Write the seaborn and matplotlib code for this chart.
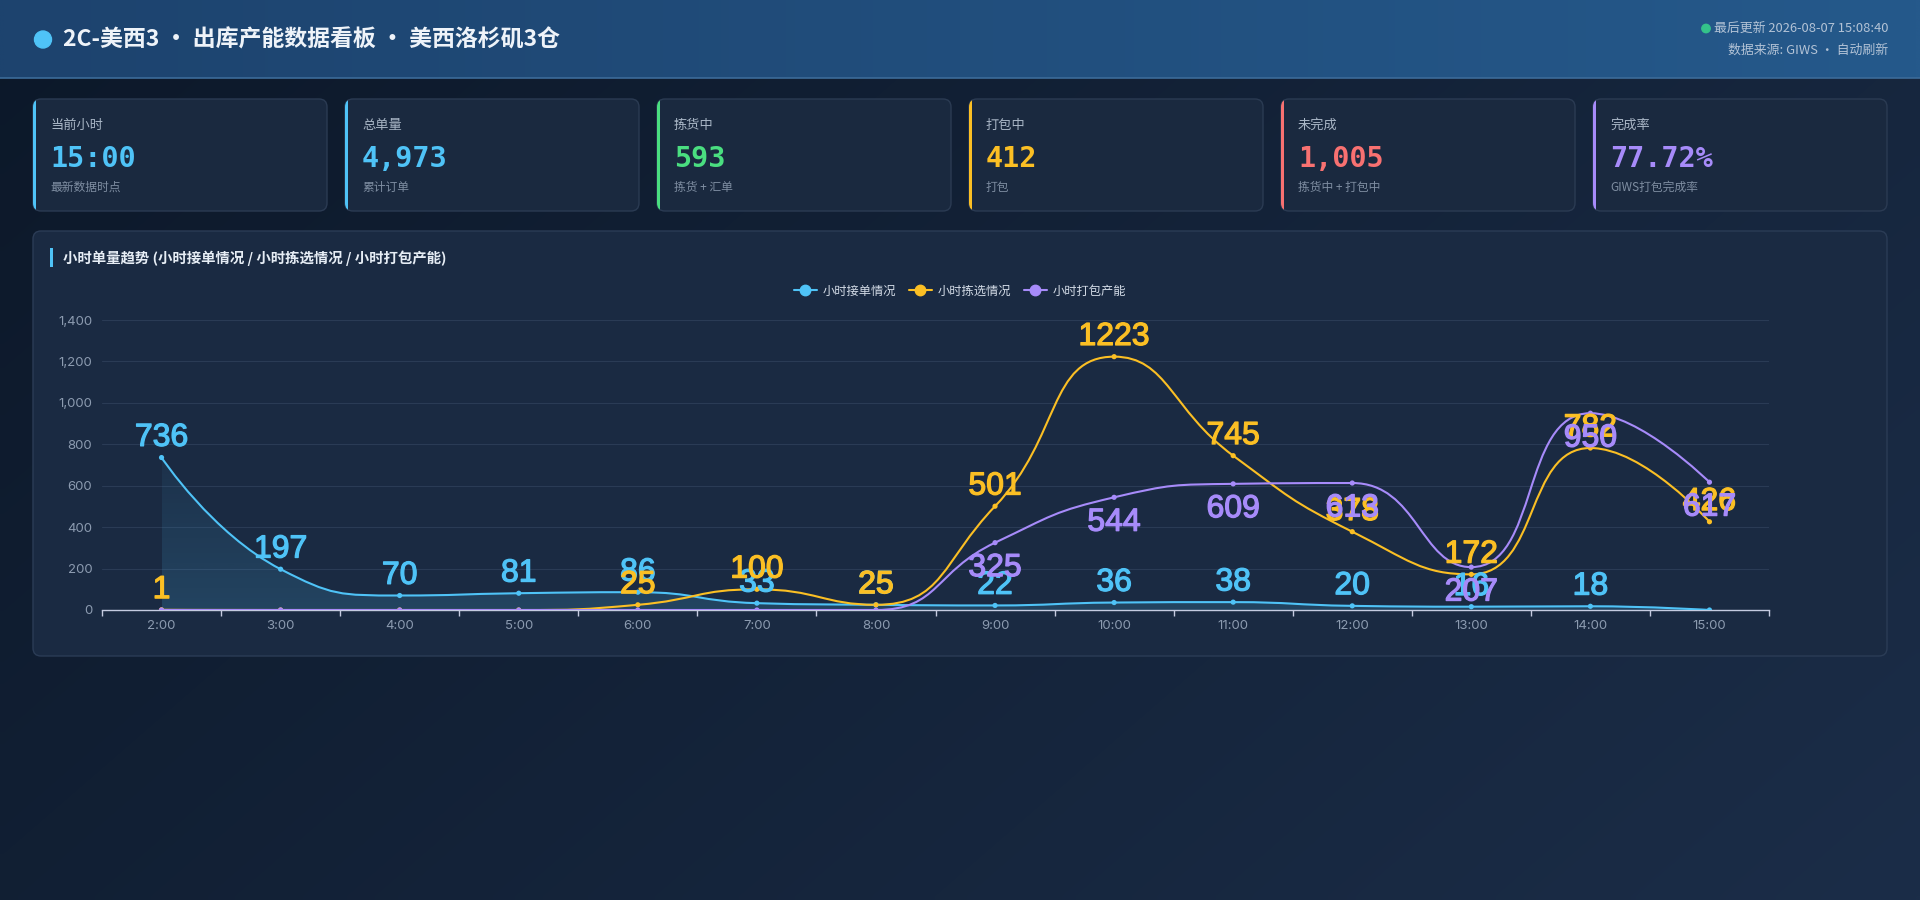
import numpy as np
import pandas as pd
import matplotlib
matplotlib.use("Agg")
import matplotlib.pyplot as plt
import matplotlib.patheffects as pe
import seaborn as sns
from matplotlib.path import Path
from matplotlib.patches import PathPatch, FancyBboxPatch, Rectangle, Circle
from matplotlib.lines import Line2D
from matplotlib.colors import to_rgb

# ---------------- data ----------------
hours = ["2:00", "3:00", "4:00", "5:00", "6:00", "7:00", "8:00",
         "9:00", "10:00", "11:00", "12:00", "13:00", "14:00", "15:00"]
orders_in = [736, 197, 70, 81, 86, 33, 25, 22, 36, 38, 20, 16, 18, 0]
picking = [1, 0, 0, 0, 25, 100, 25, 501, 1223, 745, 378, 172, 782, 426]
packing = [0, 0, 0, 0, 0, 0, 0, 325, 544, 609, 613, 207, 950, 617]
series_names = ["小时接单情况", "小时拣选情况", "小时打包产能"]
y_ticks = [0, 200, 400, 600, 800, 1000, 1200, 1400]

kpi_titles = ["当前小时", "总单量", "拣货中", "打包中", "未完成", "完成率"]
kpi_values = ["15:00", "4,973", "593", "412", "1,005", "77.72%"]
kpi_notes = ["最新数据时点", "累计订单", "拣货 + 汇单", "打包", "拣货中 + 打包中", "GIWS打包完成率"]

title_text = "2C-美西3 · 出库产能数据看板 · 美西洛杉矶3仓"
update_text = "最后更新 2026-08-07 15:08:40"
source_text = "数据来源: GIWS · 自动刷新"
chart_title = "小时单量趋势 (小时接单情况 / 小时拣选情况 / 小时打包产能)"

# ---------------- style ----------------
C_CYAN = "#4fc3f7"
C_YEL = "#fbbf24"
C_PUR = "#a78bfa"
kpi_colors = [C_CYAN, C_CYAN, "#4ade80", C_YEL, "#f87171", C_PUR]
series_colors = [C_CYAN, C_YEL, C_PUR]

sns.set_theme(style="dark", rc={"axes.facecolor": "none", "figure.facecolor": "#0e1a2b"})
plt.rcParams["font.family"] = ["Inter", "Noto Sans CJK SC", "DejaVu Sans"]
CJK = ["Noto Sans CJK SC", "DejaVu Sans"]

W, H = 1920, 900
fig = plt.figure(figsize=(19.2, 9.0), dpi=100)

# background axes in pixel units
bg = fig.add_axes([0, 0, 1, 1])
bg.set_xlim(0, W)
bg.set_ylim(H, 0)
bg.axis("off")

def lerp_img(c0, c1, t):
    a = np.array(to_rgb(c0)); b = np.array(to_rgb(c1))
    return a[None, None, :] * (1 - t[..., None]) + b[None, None, :] * t[..., None]

gx, gy = np.meshgrid(np.linspace(0, 1, 240), np.linspace(0, 1, 120))
bg.imshow(lerp_img("#0c1829", "#1b2d48", np.clip(0.65 * gx + 0.35 * gy, 0, 1)),
          extent=(0, W, H, 0), aspect="auto", zorder=0, interpolation="bilinear")
hx, hy = np.meshgrid(np.linspace(0, 1, 240), np.linspace(0, 1, 10))
bg.imshow(lerp_img("#1d436e", "#25598b", hx), extent=(0, W, 78, 0), aspect="auto",
          zorder=1, interpolation="bilinear")
bg.plot([0, W], [78, 78], color="#3c6b99", lw=1.2, zorder=2)
bg.set_xlim(0, W); bg.set_ylim(H, 0)

# header
bg.add_patch(Circle((43, 39.5), 8.5, color=C_CYAN, zorder=3))
bg.text(63, 40, title_text, fontsize=16.5, fontweight="bold", color="#eef3f9",
        va="center", ha="left", family=CJK, zorder=3)
bg.add_patch(Circle((1706, 28.5), 4.2, color="#34c28a", zorder=3))
bg.text(1888, 28.5, update_text, fontsize=9.3, color="#b3c3d6", va="center", ha="right",
        family=CJK, zorder=3)
bg.text(1888, 50, source_text, fontsize=9.3, color="#b3c3d6", va="center", ha="right",
        family=CJK, zorder=3)

# KPI cards
for i in range(6):
    x0 = 33 + i * 312
    card = FancyBboxPatch((x0, 99), 294, 112, boxstyle="round,pad=0,rounding_size=8",
                          fc="#1a293f", ec="#2b3b53", lw=1, zorder=3)
    bg.add_patch(card)
    bar = Rectangle((x0, 99), 3, 112, fc=kpi_colors[i], ec="none", zorder=4)
    bg.add_patch(bar)
    bar.set_clip_path(card)
    bg.text(x0 + 17, 125, kpi_titles[i], fontsize=9.5, color="#a9b6c6", va="center",
            ha="left", family=CJK, zorder=5)
    bg.text(x0 + 17, 159, kpi_values[i], fontsize=20.5, fontweight="bold", color=kpi_colors[i],
            va="center", ha="left", family=["DejaVu Sans Mono"], zorder=5)
    bg.text(x0 + 17, 187, kpi_notes[i], fontsize=8.5, color="#7f8ea2", va="center",
            ha="left", family=CJK, zorder=5)

# chart panel
bg.add_patch(FancyBboxPatch((33, 231), 1854, 425, boxstyle="round,pad=0,rounding_size=8",
                            fc="#1a2a42", ec="#2b3c56", lw=1, zorder=3))
bg.add_patch(Rectangle((50, 248), 3, 19, fc=C_CYAN, ec="none", zorder=4))
bg.text(63, 258, chart_title, fontsize=10.4, fontweight="bold", color="#e6edf5",
        va="center", ha="left", family=CJK, zorder=5)

# ---------------- chart ----------------
ax = fig.add_axes([102 / W, 1 - 610 / H, (1769 - 102) / W, 290 / H])
ax.set_zorder(5)
ax.patch.set_visible(False)
ax.set_xlim(-0.5, len(hours) - 0.5)
ax.set_ylim(0, 1400)

def echarts_smooth(xs, ys, smooth=0.5):
    pts = ax.transData.transform(np.column_stack([xs, ys]).astype(float))
    n = len(pts)
    verts = [pts[0]]
    codes = [Path.MOVETO]
    cp0 = pts[0].copy()
    prev = pts[0]
    for k in range(1, n):
        p = pts[k]
        if k >= n - 1:
            cp1 = p.copy(); ncp0 = p.copy()
        else:
            nxt = pts[k + 1]
            v = nxt - prev
            lp = np.hypot(*(p - prev)); ln = np.hypot(*(nxt - p))
            ratio = ln / (ln + lp)
            ncp0 = p + v * smooth * ratio
            ncp0 = np.minimum(ncp0, np.maximum(nxt, p))
            ncp0 = np.maximum(ncp0, np.minimum(nxt, p))
            v = ncp0 - p
            cp1 = p - v * lp / ln
            cp1 = np.minimum(cp1, np.maximum(prev, p))
            cp1 = np.maximum(cp1, np.minimum(prev, p))
            v = p - cp1
            ncp0 = p + v * ln / lp
        verts += [cp0, cp1, p]
        codes += [Path.CURVE4] * 3
        cp0 = ncp0
        prev = p
    verts = ax.transData.inverted().transform(np.array(verts))
    return verts, codes

xpos = np.arange(len(hours))
all_series = [orders_in, picking, packing]

# area under first series (gradient)
v0, c0 = echarts_smooth(xpos, orders_in)
area_verts = np.vstack([v0, [[xpos[-1], 0], [xpos[0], 0], v0[0]]])
area_codes = c0 + [Path.LINETO, Path.LINETO, Path.CLOSEPOLY]
area_patch = PathPatch(Path(area_verts, area_codes), fc="none", ec="none")
ax.add_patch(area_patch)
grad = np.zeros((100, 2, 4))
grad[..., :3] = to_rgb(C_CYAN)
grad[..., 3] = np.linspace(0.17, 0.05, 100)[:, None]
img = ax.imshow(grad, extent=(xpos[0], xpos[-1], max(orders_in), 0), aspect="auto",
                zorder=1, origin="upper")
img.set_clip_path(area_patch)
ax.set_xlim(-0.5, len(hours) - 0.5)
ax.set_ylim(0, 1400)

for vals, col in zip(all_series, series_colors):
    vv, cc = echarts_smooth(xpos, vals)
    ax.add_patch(PathPatch(Path(vv, cc), fc="none", ec=col, lw=1.5, zorder=3,
                           capstyle="round", joinstyle="round"))

df = pd.DataFrame({
    "pos": np.tile(xpos, 3),
    "value": orders_in + picking + packing,
    "series": np.repeat(series_names, len(hours)),
})
sns.scatterplot(data=df, x="pos", y="value", hue="series", palette=series_colors,
                s=14, linewidth=0, legend=False, ax=ax, zorder=4)

# value labels
for k, (vals, col) in enumerate(zip(all_series, series_colors)):
    for i, v in enumerate(vals):
        if v == 0:
            continue
        if k == 2:
            off, va = (0, -7.5), "top"
        else:
            off, va = (0, 8.4), "baseline"
        ax.annotate(str(v), (i, v), xytext=off, textcoords="offset points",
                    ha="center", va=va, fontsize=23, color=col,
                    family=["Liberation Sans"], zorder=6 + k, annotation_clip=False,
                    path_effects=[pe.withStroke(linewidth=0.9, foreground=col)])

ax.set_xlabel(""); ax.set_ylabel("")
ax.set_xticks(xpos)
ax.set_xticklabels(hours)
ax.set_xticks(np.arange(-0.5, len(hours), 1.0), minor=True)
ax.set_yticks(y_ticks)
ax.set_yticklabels([f"{v:,}" for v in y_ticks])
ax.tick_params(axis="x", which="major", length=0, pad=7, labelcolor="#8c9bb0", labelsize=9.5)
ax.tick_params(axis="x", which="minor", length=4, width=1, color="#c5cbe0", bottom=True)
ax.tick_params(axis="y", length=0, pad=7, labelcolor="#8c9bb0", labelsize=9.5)
ax.yaxis.grid(True, color="#2a3b55", lw=0.8)
ax.xaxis.grid(False)
ax.set_axisbelow(True)
for s in ["top", "right", "left"]:
    ax.spines[s].set_visible(False)
ax.spines["bottom"].set_color("#c5cbe0")
ax.spines["bottom"].set_linewidth(1)

handles = [Line2D([], [], color=c, lw=1.5, marker="o", markersize=7.5) for c in series_colors]
leg = ax.legend(handles, series_names, loc="center", bbox_to_anchor=(960 / W, 1 - 291 / H),
                bbox_transform=fig.transFigure, ncol=3, frameon=False,
                handlelength=1.9, handletextpad=0.5, columnspacing=1.0,
                prop={"family": CJK, "size": 8.8})
for t in leg.get_texts():
    t.set_color("#d5dde8")

fig.savefig("out.png", dpi=100)
